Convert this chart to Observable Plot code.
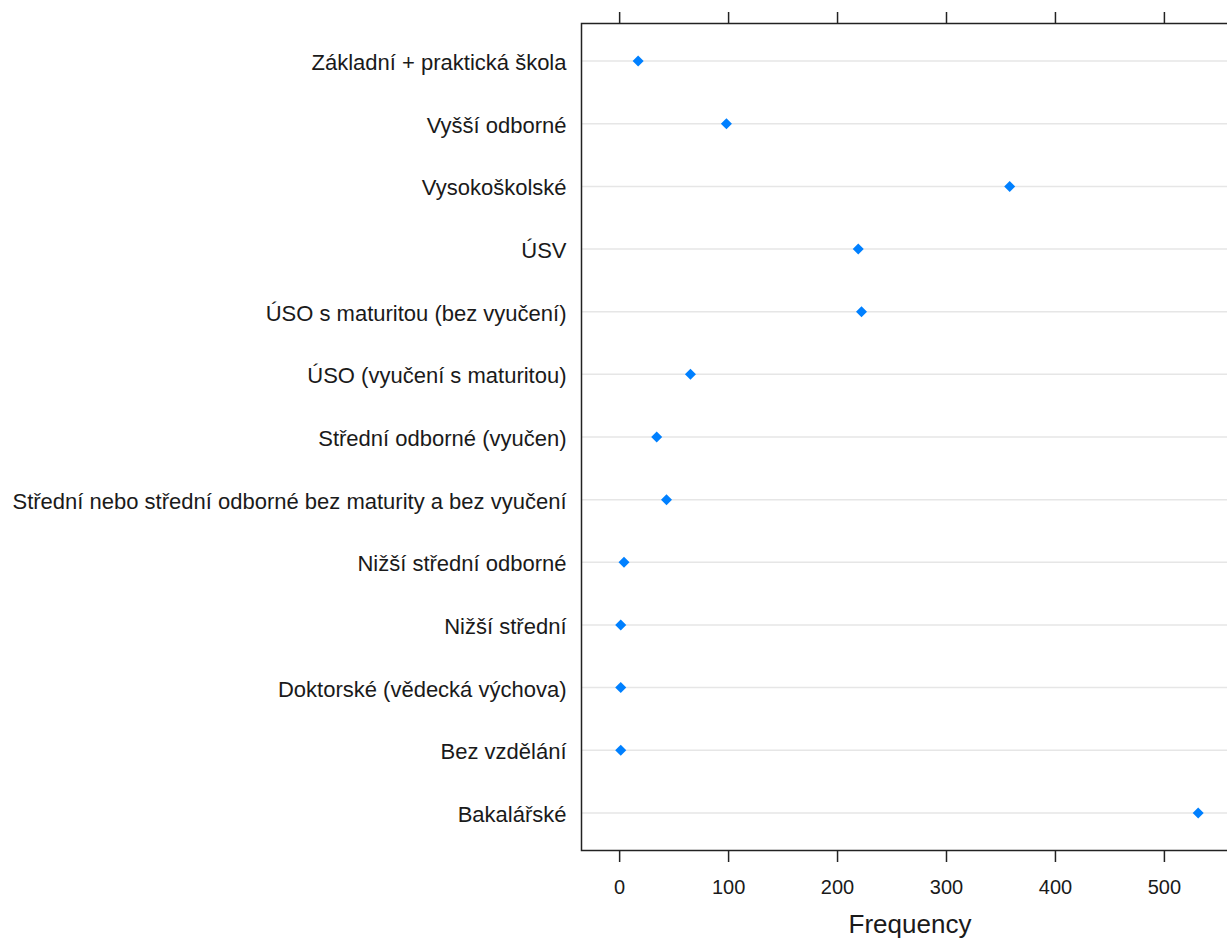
<!DOCTYPE html>
<html><head><meta charset="utf-8">
<script src="https://cdn.jsdelivr.net/npm/d3@7"></script>
<script src="https://cdn.jsdelivr.net/npm/@observablehq/plot@0.6"></script>
<style>html,body{margin:0;padding:0;overflow:hidden;background:#fff}
#chart{width:1227px;height:946px;overflow:hidden}</style>
</head><body><div id="chart"></div><script>
const categories = [
  "Základní + praktická škola",
  "Vyšší odborné",
  "Vysokoškolské",
  "ÚSV",
  "ÚSO s maturitou (bez vyučení)",
  "ÚSO (vyučení s maturitou)",
  "Střední odborné (vyučen)",
  "Střední nebo střední odborné bez maturity a bez vyučení",
  "Nižší střední odborné",
  "Nižší střední",
  "Doktorské (vědecká výchova)",
  "Bez vzdělání",
  "Bakalářské"
];
const frequencies = [17, 98, 358, 219, 222, 65, 34, 43, 4, 1, 1, 1, 531];
const xTicks = [0, 100, 200, 300, 400, 500];
const xLabel = "Frequency";

const data = categories.map((c, i) => ({category: c, frequency: frequencies[i]}));

const chart = Plot.plot({
  width: 1238, height: 946,
  marginLeft: 581, marginRight: 0, marginTop: 23, marginBottom: 96,
  style: {fontFamily: "'Liberation Sans', Arial, sans-serif", background: "#fff", color: "#1a1a1a", maxWidth: "none"},
  x: {domain: [-35, 568]},
  y: {domain: categories, type: "point", padding: 0.6, round: false},
  marks: [
    Plot.gridY({stroke: "#e6e6e6", strokeOpacity: 1, strokeWidth: 1.5}),
    Plot.frame({stroke: "#222", strokeWidth: 1.5}),
    Plot.axisX({anchor: "bottom", ticks: xTicks, tickSize: 12, tickPadding: 17, fontSize: 20, label: null, stroke: "#222", strokeWidth: 1.5}),
    Plot.axisX({anchor: "top", ticks: xTicks, tickSize: 12, tickFormat: () => "", label: null, stroke: "#222", strokeWidth: 1.5}),
    Plot.axisY({tickSize: 0, tickPadding: 15, fontSize: 22, dy: 2, label: null}),
    Plot.text([xLabel], {frameAnchor: "bottom", dy: 82, fontSize: 26, fill: "#1a1a1a"}),
    Plot.dot(data, {x: "frequency", y: "category", fill: "#0080ff", symbol: "square", rotate: 45, r: 4.4})
  ]
});
document.getElementById("chart").appendChild(chart);
</script></body></html>
